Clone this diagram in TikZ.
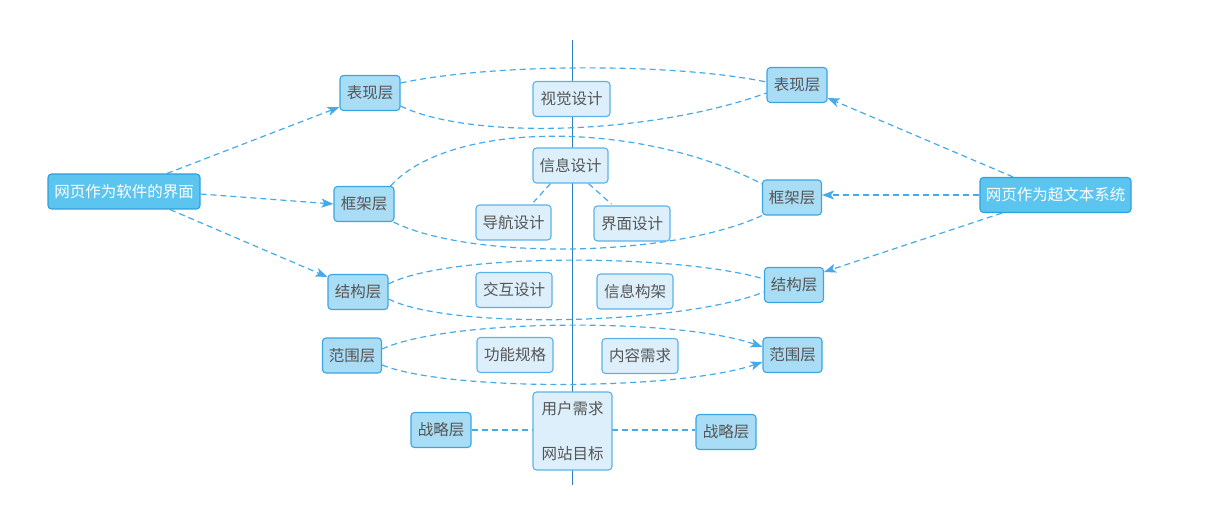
\documentclass[tikz,border=0pt]{standalone}
\usepackage{fontspec}
\setmainfont{Noto Sans CJK SC}
\usetikzlibrary{arrows.meta,calc}
\definecolor{mainfill}{HTML}{5BC4EF}
\definecolor{mainborder}{HTML}{2FA0DE}
\definecolor{layfill}{HTML}{A9DCF5}
\definecolor{layborder}{HTML}{3AA5E3}
\definecolor{desfill}{HTML}{DDEFFB}
\definecolor{desborder}{HTML}{5BB2E8}
\definecolor{dashcol}{HTML}{45ABE8}
\definecolor{axiscol}{HTML}{2B80C2}
\definecolor{txt}{HTML}{555555}
\pgfdeclarelayer{bg}
\pgfsetlayers{bg,main}
\tikzset{
  base/.style={rounded corners=3.5pt, line width=1.1pt, inner sep=0pt, font=\fontsize{15.5}{19}\selectfont},
  mainbox/.style={base, draw=mainborder, fill=mainfill, text=white, minimum width=152pt, minimum height=35pt},
  laybox/.style={base, draw=layborder, fill=layfill, text=txt, minimum width=60pt, minimum height=35pt},
  desbox/.style={base, draw=desborder, fill=desfill, text=txt, minimum width=76pt, minimum height=35pt},
  conn/.style={draw=dashcol, line width=1.2pt, dash pattern=on 6pt off 4pt},
  arr/.style={conn, -{Stealth[length=12pt,width=9pt,inset=3pt]}},
}
\begin{document}
\begin{tikzpicture}[x=1pt,y=-1pt]
\useasboundingbox (0,0) rectangle (1214,510);
% nodes
\node[mainbox] (mainL) at (124,191.5) {网页作为软件的界面};
\node[mainbox, minimum width=151pt] (mainR) at (1055.5,195) {网页作为超文本系统};
\node[laybox] (pL) at (370,93) {表现层};
\node[laybox] (fL) at (364,204) {框架层};
\node[laybox] (sL) at (358,292) {结构层};
\node[laybox, minimum width=59pt] (rL) at (352,355.5) {范围层};
\node[laybox] (zL) at (441,430) {战略层};
\node[laybox] (pR) at (797,85) {表现层};
\node[laybox, minimum width=59pt] (fR) at (792,197.5) {框架层};
\node[laybox, minimum width=59pt] (sR) at (794,285) {结构层};
\node[laybox, minimum width=59pt] (rR) at (792.5,355) {范围层};
\node[laybox] (zR) at (726,432) {战略层};
\node[desbox, minimum width=77pt] (vis) at (571.5,99) {视觉设计};
\node[desbox, minimum width=75pt] (info) at (570.5,165.5) {信息设计};
\node[desbox, minimum width=75pt] (nav) at (513.5,222.5) {导航设计};
\node[desbox] (ui) at (632,223.5) {界面设计};
\node[desbox] (ix) at (514,290) {交互设计};
\node[desbox] (ia) at (635,291.5) {信息构架};
\node[desbox] (fs) at (515,355) {功能规格};
\node[desbox] (cr) at (640,356) {内容需求};
\node[desbox, minimum width=79pt, minimum height=78pt, align=center] (goal) at (572.5,431) {用户需求\\[26pt]网站目标};
\coordinate (axTop) at (572,40);
\coordinate (axBot) at (572,485);
\begin{pgfonlayer}{bg}
\draw[axiscol, line width=1pt] (axTop) -- (axBot);
% left main arrows
\draw[arr] ($(mainL.north)+(43,0)$) -- ($(pL.west)+(0,14)$);
\draw[arr] ($(mainL.east)+(0,2.5)$) -- (fL.west);
\draw[arr] ($(mainL.south)+(46,0)$) -- ($(sL.west)+(0,-15)$);
% right main arrows
\draw[arr] ($(mainR.north)+(-42.5,0)$) -- ($(pR.east)+(0,13)$);
\draw[arr] (mainR.west) -- (mainR.west -| fR.east);
\draw[arr] ($(mainR.south)+(-53.5,0)$) -- ($(sR.east)+(0,-13)$);
% layer curves
\draw[conn] ($(pL.east)+(0,-10)$) .. controls (495,63) and (675,63) .. ($(pR.west)+(0,-3)$);
\draw[conn] ($(pL.east)+(0,13)$) .. controls (470,140) and (650,135) .. ($(pR.west)+(0,8)$);
\draw[conn] ($(fL.north east)+(-4,0)$) .. controls (450,120) and (640,120) .. ($(fR.north west)+(0,4.5)$);
\draw[conn] ($(fL.south east)+(-1,0)$) .. controls (470,260) and (670,258) .. ($(fR.south west)+(0,0)$);
\draw[conn] ($(sL.east)+(0,-8)$) .. controls (450,252) and (680,254) .. ($(sR.west)+(0,-6)$);
\draw[conn] ($(sL.east)+(0,7)$) .. controls (450,330) and (680,325) .. ($(sR.west)+(0,7)$);
\draw[arr] ($(rL.east)+(0,-6.5)$) .. controls (450,318) and (680,318) .. ($(rR.west)+(0,-8)$);
\draw[arr] ($(rL.east)+(0,9.5)$) .. controls (450,392) and (680,390) .. ($(rR.west)+(0,7)$);
\draw[conn] (zL.east) -- (zL.east -| zR.west);
% design sub-links
\draw[conn, shorten >=3pt] ($(info.south)+(-20,0)$) -- ($(nav.north)+(18,0)$);
\draw[conn, shorten >=2pt] ($(info.south)+(18,0)$) -- ($(ui.north)+(-19,0)$);
\end{pgfonlayer}
\end{tikzpicture}
\end{document}
